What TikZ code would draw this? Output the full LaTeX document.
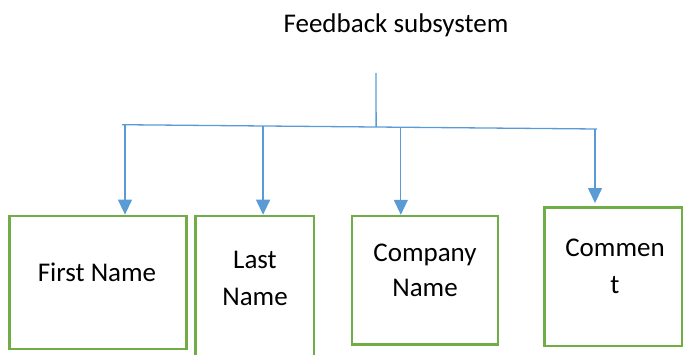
\documentclass[tikz,border=0pt]{standalone}
\usepackage{fontspec}
\setmainfont{Carlito}
\usetikzlibrary{arrows.meta}
\definecolor{boxgreen}{HTML}{70AD47}
\definecolor{linkblue}{HTML}{5B9BD5}
\tikzset{
  fieldbox/.style={draw=boxgreen, line width=2.6pt, inner sep=0pt, fill=none},
  fieldtext/.style={anchor=base, inner sep=0pt, font=\fontsize{27}{33}\selectfont},
  link/.style={draw=linkblue, line width=1.3pt},
  linkarrow/.style={link, -{Triangle[width=14pt,length=15pt]}},
}
\begin{document}
\begin{tikzpicture}[x=1pt,y=-1pt]
  \useasboundingbox (0,0) rectangle (684,354);

  % title
  \node[fieldtext] (title) at (396,32) {Feedback subsystem};

  % field boxes
  \node[fieldbox, minimum width=177pt, minimum height=133pt]   (b1) at (98,282.4) {};
  \node[fieldbox, minimum width=118.4pt, minimum height=146pt] (b2) at (254.8,289) {};
  \node[fieldbox, minimum width=146pt, minimum height=128.7pt] (b3) at (425,280.4) {};
  \node[fieldbox, minimum width=137.5pt, minimum height=138.7pt] (b4) at (613.3,276.7) {};

  % box labels
  \node[fieldtext] (t1)  at (97,281.7)  {First Name};
  \node[fieldtext] (t2a) at (255,268.3) {Last};
  \node[fieldtext] (t2b) at (255,305)   {Name};
  \node[fieldtext] (t3a) at (425,261.7) {Company};
  \node[fieldtext] (t3b) at (425,296.7) {Name};
  \node[fieldtext] (t4a) at (615,256.7) {Commen};
  \node[fieldtext] (t4b) at (615,293.3) {t};

  % distribution bar and its junctions
  \coordinate (hl) at (122,124.7);
  \coordinate (hr) at (597,129);
  \coordinate (top) at (376,73);
  \path (hl) -- (hr)
    coordinate[pos=0.0063] (j1)
    coordinate[pos=0.297]  (j2)
    coordinate[pos=0.587]  (j3)
    coordinate[pos=0.9958] (j4)
    coordinate[pos=0.535]  (jt);

  \draw[link] (top) -- (jt);
  \draw[link] (hl) -- (hr);

  % arrows down to the fields
  \draw[linkarrow] (j1) -- (j1 |- b1.north);
  \draw[linkarrow] (j2) -- (j2 |- b2.north);
  \draw[linkarrow] (j3) -- (j3 |- b3.north);
  \draw[linkarrow, shorten >=3pt] (j4) -- (j4 |- b4.north);
\end{tikzpicture}
\end{document}
